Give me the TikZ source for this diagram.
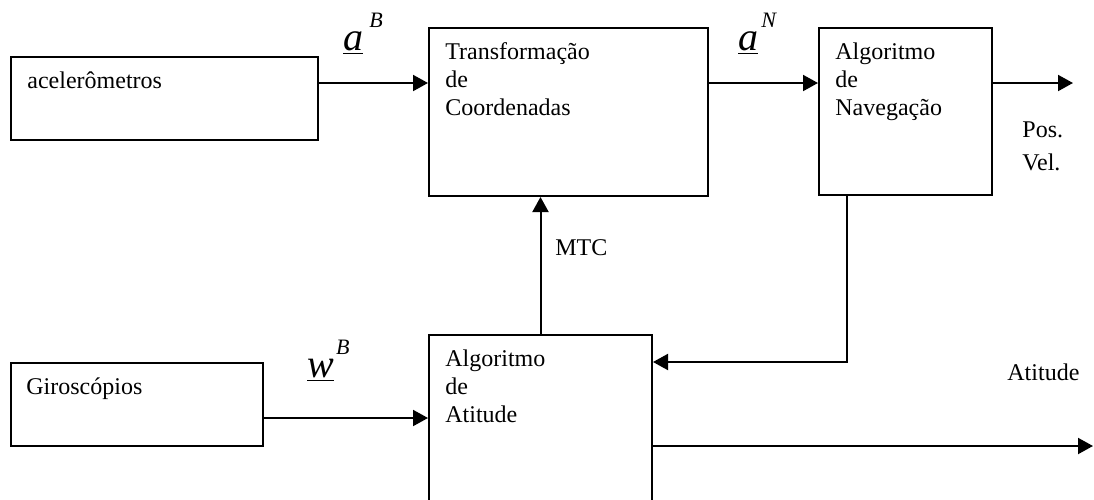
\documentclass[tikz,border=0pt]{standalone}
\usepackage{fontspec}
\setmainfont{Liberation Serif}
\usetikzlibrary{arrows.meta,calc}

\tikzset{
    blk/.style={draw, line width=1pt, rectangle, inner sep=0pt, anchor=north west},
    txt/.style={align=left, inner sep=0pt, anchor=north west, font=\fontsize{12}{14}\selectfont},
    lbl/.style={inner sep=0pt, anchor=base west, font=\fontsize{12}{14}\selectfont},
    arr/.style={-{Triangle[length=7.5pt,width=8pt]}, line width=1pt},
}
\newcommand{\vecsym}[3]{\fontsize{20}{20}\selectfont\underline{\textit{#1}}\hspace{#3}\raisebox{11.5pt}{\fontsize{11}{11}\selectfont\textit{#2}}}

\begin{document}
\begin{tikzpicture}[x=0.5pt, y=-0.5pt]
    \useasboundingbox (0,0) rectangle (1094,499);

    \foreach \bn/\bx/\by/\bw/\bh in {acel/10/56/307/83, trans/428/27/279/168, nav/818/27/173/167, giro/10/362/252/83, atit/428/334/223/190} {
        \node[blk, minimum width=\bw*0.5pt, minimum height=\bh*0.5pt] (\bn) at (\bx,\by) {};
    }

    \node[txt] (aceltxt) at ([xshift=8.5pt, yshift=-7.5pt]acel.north west) {acelerômetros};
    \node[txt] (transtxt) at ([xshift=8.5pt, yshift=-7.5pt]trans.north west) {Transformação\\de\\Coordenadas};
    \node[txt] (navtxt) at ([xshift=8.5pt, yshift=-7.5pt]nav.north west) {Algoritmo\\de\\Navegação};
    \node[txt] (girotxt) at ([xshift=8pt, yshift=-7.5pt]giro.north west) {Giroscópios};
    \node[txt] (atittxt) at ([xshift=8.5pt, yshift=-7.5pt]atit.north west) {Algoritmo\\de\\Atitude};

    % rows of the connectors
    \coordinate (r1) at (0,83);
    \coordinate (r2) at (0,418);
    \coordinate (fb) at (847,362);
    \coordinate (navout) at (1073,83);
    \coordinate (attout) at (1093,446);

    \draw[arr] (acel.east |- r1) -- (trans.west |- r1);
    \draw[arr] (trans.east |- r1) -- (nav.west |- r1);
    \draw[arr] (nav.east |- r1) -- (navout);
    \draw[arr] (atit.north) -- (atit.north |- trans.south);
    \draw[arr] (nav.south -| fb) |- (atit.east |- fb);
    \draw[arr] (giro.east |- r2) -- (atit.west |- r2);
    \draw[arr] (atit.east |- attout) -- (attout);

    % labels
    \node[lbl] (aB) at (343,50) {\vecsym{a}{B}{3pt}};
    \node[lbl] (aN) at (738,50) {\vecsym{a}{N}{1.5pt}};
    \node[lbl] (wB) at (307,377) {\vecsym{w}{B}{1pt}};
    \node[lbl] (mtc) at (555,255) {MTC};
    \node[txt, font=\fontsize{12}{16.5}\selectfont] (posvel) at (1022,121) {Pos.\\Vel.};
    \node[lbl] (att) at (1007,380) {Atitude};
\end{tikzpicture}
\end{document}
